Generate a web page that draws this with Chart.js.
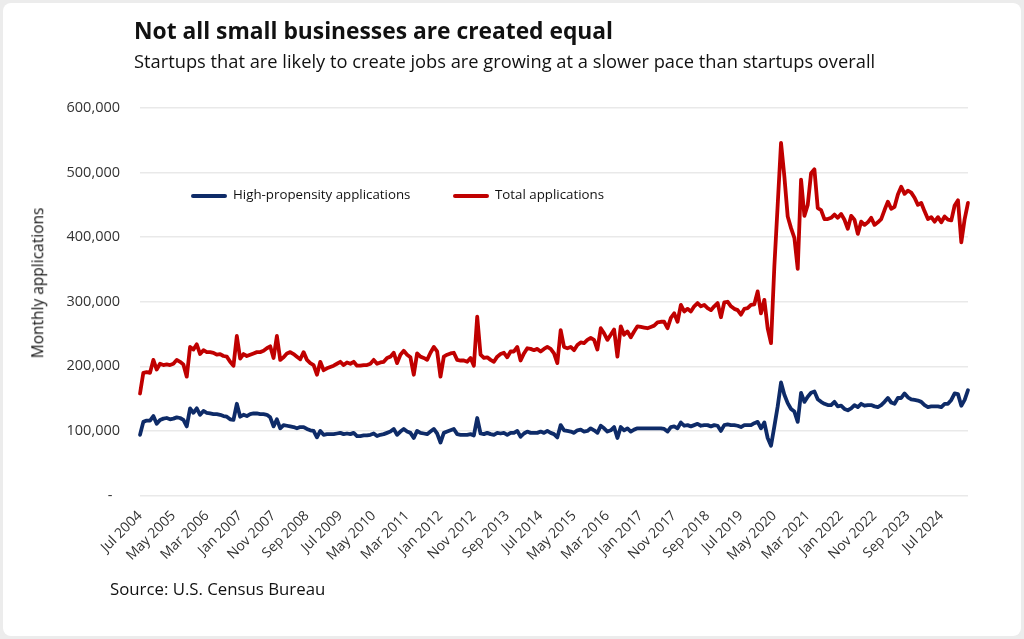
<!DOCTYPE html>
<html lang="en">
<head>
  <meta charset="UTF-8">
  <meta name="viewport" content="width=device-width, initial-scale=1.0">
  <title>Not all small businesses are created equal</title>
  <script src="https://cdn.jsdelivr.net/npm/chart.js"></script>
  <style>
    html, body {
      margin: 0;
      padding: 0;
    }
    body {
      position: relative;
      width: 1024px;
      height: 639px;
      overflow: hidden;
      background: #ececec;
      font-family: "Open Sans", sans-serif;
      color: #111;
    }
    #frame {
      position: absolute;
      left: 3px;
      top: 3px;
      width: 1018px;
      height: 633px;
      background: #fff;
      border-radius: 8px;
    }
    #chartContainer {
      position: absolute;
      left: 0;
      top: 0;
      width: 1024px;
      height: 639px;
    }
    .txt {
      position: absolute;
      white-space: nowrap;
      line-height: 1;
    }
    #title {
      left: 134px;
      top: 20px;
      font-size: 22.8px;
      font-weight: 700;
    }
    #subtitle {
      left: 134px;
      top: 52px;
      font-size: 18.3px;
    }
    #source {
      left: 110px;
      top: 581px;
      font-size: 16.8px;
    }
    #yTitle {
      left: 38px;
      top: 283px;
      font-size: 15.5px;
      transform: translate(-50%, -50%) rotate(-90deg);
    }
    .legendItem {
      position: absolute;
      top: 188px;
      font-size: 13.3px;
      line-height: 1;
      white-space: nowrap;
    }
    .legendItem span.swatch {
      position: absolute;
      top: 6.2px;
      width: 36px;
      height: 4px;
      border-radius: 2px;
    }
  </style>
</head>
<body>
  <div id="frame"></div>
  <div id="chartContainer">
    <canvas id="startupsChart" width="1024" height="639"></canvas>
  </div>
  <div class="txt" id="title">Not all small businesses are created equal</div>
  <div class="txt" id="subtitle">Startups that are likely to create jobs are growing at a slower pace than startups overall</div>
  <div class="txt" id="yTitle">Monthly applications</div>
  <div class="txt" id="source">Source: U.S. Census Bureau</div>
  <div id="legend"></div>

  <script>
    // monthly business applications, thousands, Jul 2004 .. Mar 2025
    const highPropensityK = [
      94, 114, 116, 116, 123, 111, 117, 119, 120, 118,
      119, 121, 120, 117, 107, 135, 128, 135, 125, 131,
      128, 127, 126, 126, 125, 123, 122, 118, 117, 142,
      122, 125, 123, 126, 127, 127, 126, 126, 125, 121,
      107, 118, 104, 109, 108, 107, 106, 104, 106, 106,
      103, 101, 100, 90, 100, 94, 95, 95, 95, 96,
      97, 95, 96, 95, 97, 92, 92, 93, 93, 94,
      96, 92, 94, 95, 97, 99, 103, 94, 99, 103,
      99, 97, 89, 100, 97, 96, 95, 99, 103, 96,
      82, 97, 99, 101, 103, 95, 94, 94, 94, 95,
      93, 120, 96, 95, 97, 95, 94, 97, 96, 97,
      94, 97, 97, 100, 91, 96, 99, 97, 97, 97,
      99, 97, 100, 97, 95, 90, 109, 101, 100, 99,
      97, 101, 102, 99, 100, 104, 101, 97, 108, 104,
      99, 101, 106, 89, 106, 101, 104, 99, 102, 104,
      104, 104, 104, 104, 104, 104, 104, 103, 99, 106,
      107, 104, 113, 108, 109, 107, 109, 111, 108, 109,
      109, 107, 109, 108, 100, 109, 110, 109, 109, 108,
      106, 109, 109, 109, 112, 114, 104, 113, 89, 77,
      107, 138, 175, 156, 143, 134, 130, 114, 159, 145,
      153, 159, 161, 149, 145, 142, 140, 140, 145, 138,
      139, 134, 132, 135, 140, 137, 142, 139, 140, 140,
      138, 137, 140, 145, 151, 144, 142, 151, 151, 158,
      152, 149, 148, 147, 145, 140, 137, 138, 138, 138,
      137, 142, 142, 148, 158, 157, 139, 148, 163
    ];

    const totalK = [
      158, 190, 191, 190, 210, 195, 204, 202, 203, 202,
      204, 210, 207, 203, 184, 230, 226, 234, 219, 225,
      222, 222, 221, 218, 219, 216, 215, 207, 201, 247,
      212, 219, 216, 218, 220, 222, 222, 224, 228, 231,
      213, 247, 210, 214, 220, 222, 219, 215, 211, 222,
      210, 205, 202, 187, 207, 194, 197, 199, 201, 204,
      207, 202, 206, 204, 207, 201, 201, 202, 202, 204,
      210, 204, 206, 207, 213, 215, 221, 205, 218, 224,
      218, 214, 187, 220, 215, 213, 210, 221, 230, 223,
      184, 215, 218, 220, 221, 210, 209, 209, 207, 213,
      201, 277, 218, 213, 214, 210, 207, 215, 219, 221,
      214, 223, 223, 230, 209, 220, 228, 227, 225, 227,
      223, 227, 230, 227, 220, 205, 256, 230, 228, 230,
      225, 233, 237, 236, 241, 244, 241, 226, 259, 251,
      241, 249, 257, 215, 262, 249, 254, 245, 254, 262,
      261, 260, 259, 261, 263, 268, 269, 269, 259, 275,
      282, 269, 295, 285, 289, 285, 293, 298, 293, 295,
      290, 287, 293, 298, 276, 299, 300, 293, 289, 287,
      280, 289, 290, 295, 296, 316, 282, 303, 259, 236,
      355, 450, 546, 494, 432, 414, 399, 351, 489, 433,
      450, 499, 505, 445, 442, 428, 428, 430, 435, 430,
      436, 427, 413, 433, 427, 405, 424, 419, 423, 430,
      419, 423, 428, 442, 455, 444, 447, 466, 478, 467,
      472, 469, 461, 450, 453, 440, 428, 431, 424, 431,
      423, 432, 427, 426, 449, 457, 392, 428, 453
    ];

    const monthNames = ['Jan', 'Feb', 'Mar', 'Apr', 'May', 'Jun', 'Jul', 'Aug', 'Sep', 'Oct', 'Nov', 'Dec'];
    const firstYear = 2004;
    const firstMonth = 6; // July
    const tickEvery = 10;
    const yTicksK = [0, 100, 200, 300, 400, 500, 600];

    const months = totalK.map((_, i) => {
      const m = firstMonth + i;
      return monthNames[m % 12] + ' ' + (firstYear + Math.floor(m / 12));
    });

    const series = [
      { label: 'High-propensity applications', data: highPropensityK, color: '#0e2b68' },
      { label: 'Total applications', data: totalK, color: '#c00000' }
    ];

    const tickFont = { family: '"Open Sans", sans-serif', size: 14.5 };

    const ctx = document.getElementById('startupsChart').getContext('2d');
    new Chart(ctx, {
      type: 'line',
      data: {
        labels: months,
        datasets: series.map(s => ({
          label: s.label,
          data: s.data,
          borderColor: s.color,
          backgroundColor: s.color,
          borderWidth: 3.8,
          pointRadius: 0,
          tension: 0,
          borderJoinStyle: 'round',
          borderCapStyle: 'round',
          fill: false
        }))
      },
      options: {
        responsive: false,
        animation: false,
        layout: {
          padding: { left: 0, right: 56, top: 108, bottom: 0 }
        },
        plugins: {
          legend: { display: false },
          tooltip: { enabled: false }
        },
        scales: {
          x: {
            offset: false,
            grid: { display: false, drawTicks: false },
            border: { display: false },
            afterFit: scale => { scale.height = 639 - 495.5; },
            ticks: {
              autoSkip: false,
              minRotation: 45,
              maxRotation: 45,
              padding: 12,
              color: '#333',
              font: { family: '"Open Sans", sans-serif', size: 14 },
              callback: function (value, index) {
                return index % tickEvery === 0 ? this.getLabelForValue(value) : null;
              }
            }
          },
          y: {
            min: yTicksK[0],
            max: yTicksK[yTicksK.length - 1],
            afterFit: scale => { scale.width = 140; },
            afterBuildTicks: scale => { scale.ticks = yTicksK.map(v => ({ value: v })); },
            grid: { color: '#e9e9e9', lineWidth: 1.5, drawTicks: false },
            border: { display: false },
            ticks: {
              padding: 20,
              color: '#333',
              font: tickFont,
              callback: v => v === 0 ? '-  ' : (v * 1000).toLocaleString('en-US')
            }
          }
        }
      }
    });

    // legend inside the plot, built from the datasets
    const legend = document.getElementById('legend');
    const legendX = [191, 453];
    series.forEach((s, i) => {
      const item = document.createElement('div');
      item.className = 'legendItem';
      item.style.left = legendX[i] + 'px';
      item.style.paddingLeft = '42px';
      const sw = document.createElement('span');
      sw.className = 'swatch';
      sw.style.left = '0px';
      sw.style.background = s.color;
      item.appendChild(sw);
      item.appendChild(document.createTextNode(s.label));
      legend.appendChild(item);
    });
  </script>
</body>
</html>
